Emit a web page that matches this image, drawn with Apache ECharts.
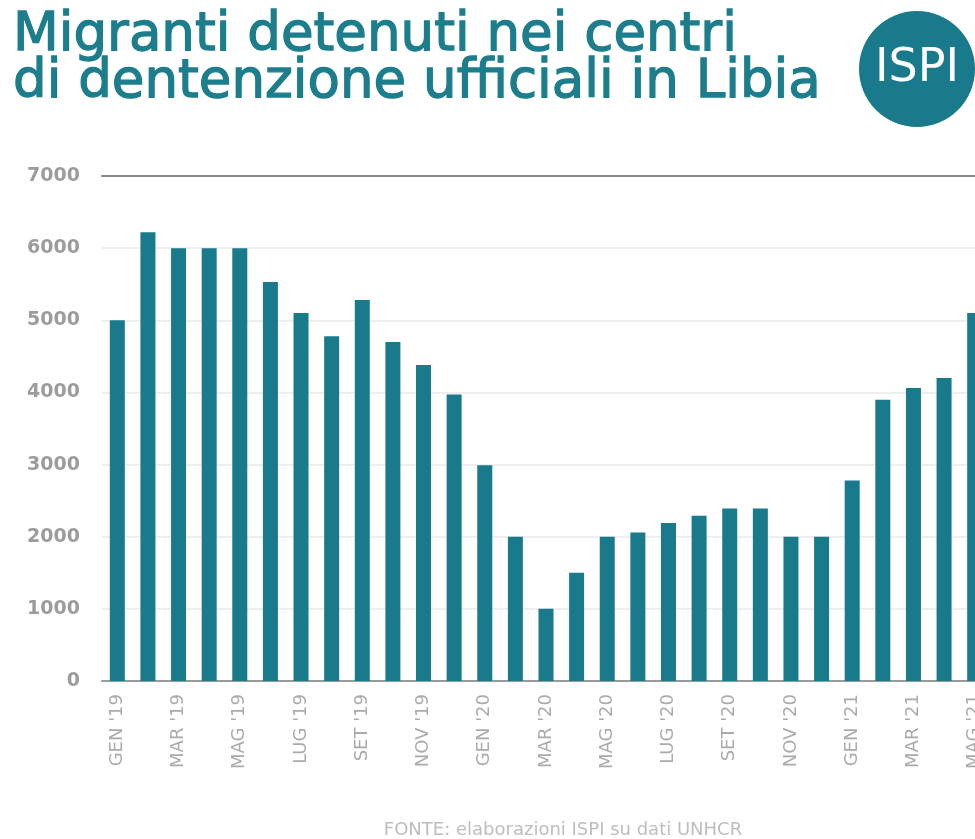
<!DOCTYPE html>
<html>
<head>
<meta charset="utf-8">
<script src="https://cdn.jsdelivr.net/npm/echarts@6/dist/echarts.min.js"></script>
<style>
  html, body { margin: 0; padding: 0; background: #fff; }
  #main { width: 975px; height: 839px; }
</style>
</head>
<body>
<div id="main"></div>
<script>
// mesi (etichette asse x)
var mesi = [
  "GEN '19", "FEB '19", "MAR '19", "APR '19", "MAG '19", "GIU '19",
  "LUG '19", "AGO '19", "SET '19", "OTT '19", "NOV '19", "DIC '19",
  "GEN '20", "FEB '20", "MAR '20", "APR '20", "MAG '20", "GIU '20",
  "LUG '20", "AGO '20", "SET '20", "OTT '20", "NOV '20", "DIC '20",
  "GEN '21", "FEB '21", "MAR '21", "APR '21", "MAG '21"
];
// migranti detenuti
var detenuti = [
  5000, 6220, 6000, 6000, 6000, 5530,
  5100, 4780, 5280, 4700, 4380, 3970,
  2990, 2000, 1000, 1500, 2000, 2060,
  2190, 2290, 2390, 2390, 2000, 2000,
  2780, 3900, 4060, 4200, 5100
];
var yTicks = [0, 1000, 2000, 3000, 4000, 5000, 6000, 7000];

var teal = '#187a8b';

var myChart = echarts.init(document.getElementById('main'));
var option = {
  animation: false,
  backgroundColor: '#fff',
  title: [
    {
      text: 'Migranti detenuti nei centri\ndi dentenzione ufficiali in Libia',
      left: 8,
      top: 8,
      textStyle: {
        fontFamily: 'DejaVu Sans',
        fontWeight: 'normal',
        fontSize: 53,
        lineHeight: 47,
        color: '#1c7d8d',
        textBorderColor: '#1c7d8d',
        textBorderWidth: 1.3
      }
    },
    {
      text: 'FONTE: elaborazioni ISPI su dati UNHCR',
      left: 558,
      textAlign: 'center',
      top: 816,
      textStyle: {
        fontFamily: 'DejaVu Sans',
        fontWeight: 'normal',
        fontSize: 18,
        color: '#bdbdbd'
      }
    }
  ],
  graphic: [
    {
      type: 'circle',
      shape: { cx: 917, cy: 69, r: 58 },
      style: { fill: teal }
    },
    {
      type: 'text',
      x: 917,
      y: 69,
      style: {
        text: 'ISPI',
        fill: '#fff',
        fontFamily: 'DejaVu Sans',
        fontWeight: 'normal',
        fontSize: 46,
        textAlign: 'center',
        textVerticalAlign: 'middle'
      }
    }
  ],
  grid: {
    left: 102,
    top: 176,
    width: 888,
    bottom: 158,
    outerBoundsMode: 'none'
  },
  xAxis: [
    {
      type: 'category',
      data: mesi,
      axisLine: { lineStyle: { color: '#9a9a9a', width: 2 } },
      axisTick: { show: false },
      axisLabel: {
        interval: 1,
        rotate: 90,
        margin: 13,
        fontFamily: 'DejaVu Sans',
        fontSize: 18,
        color: '#ababab'
      }
    },
    {
      type: 'category',
      data: mesi,
      position: 'top',
      axisLine: { lineStyle: { color: '#888', width: 2 } },
      axisTick: { show: false },
      axisLabel: { show: false }
    }
  ],
  yAxis: {
    type: 'value',
    min: yTicks[0],
    max: yTicks[yTicks.length - 1],
    interval: 1000,
    axisLine: { show: false },
    axisTick: { show: false },
    axisLabel: {
      margin: 22,
      fontFamily: 'DejaVu Sans',
      fontWeight: 'bold',
      fontSize: 19,
      color: '#9c9c9c',
      formatter: function (v) { return String(v); }
    },
    splitLine: { lineStyle: { color: '#e8e8e8', width: 1.5 } }
  },
  series: [
    {
      type: 'bar',
      data: detenuti,
      barWidth: 15,
      itemStyle: { color: teal }
    }
  ]
};
myChart.setOption(option);
</script>
</body>
</html>
